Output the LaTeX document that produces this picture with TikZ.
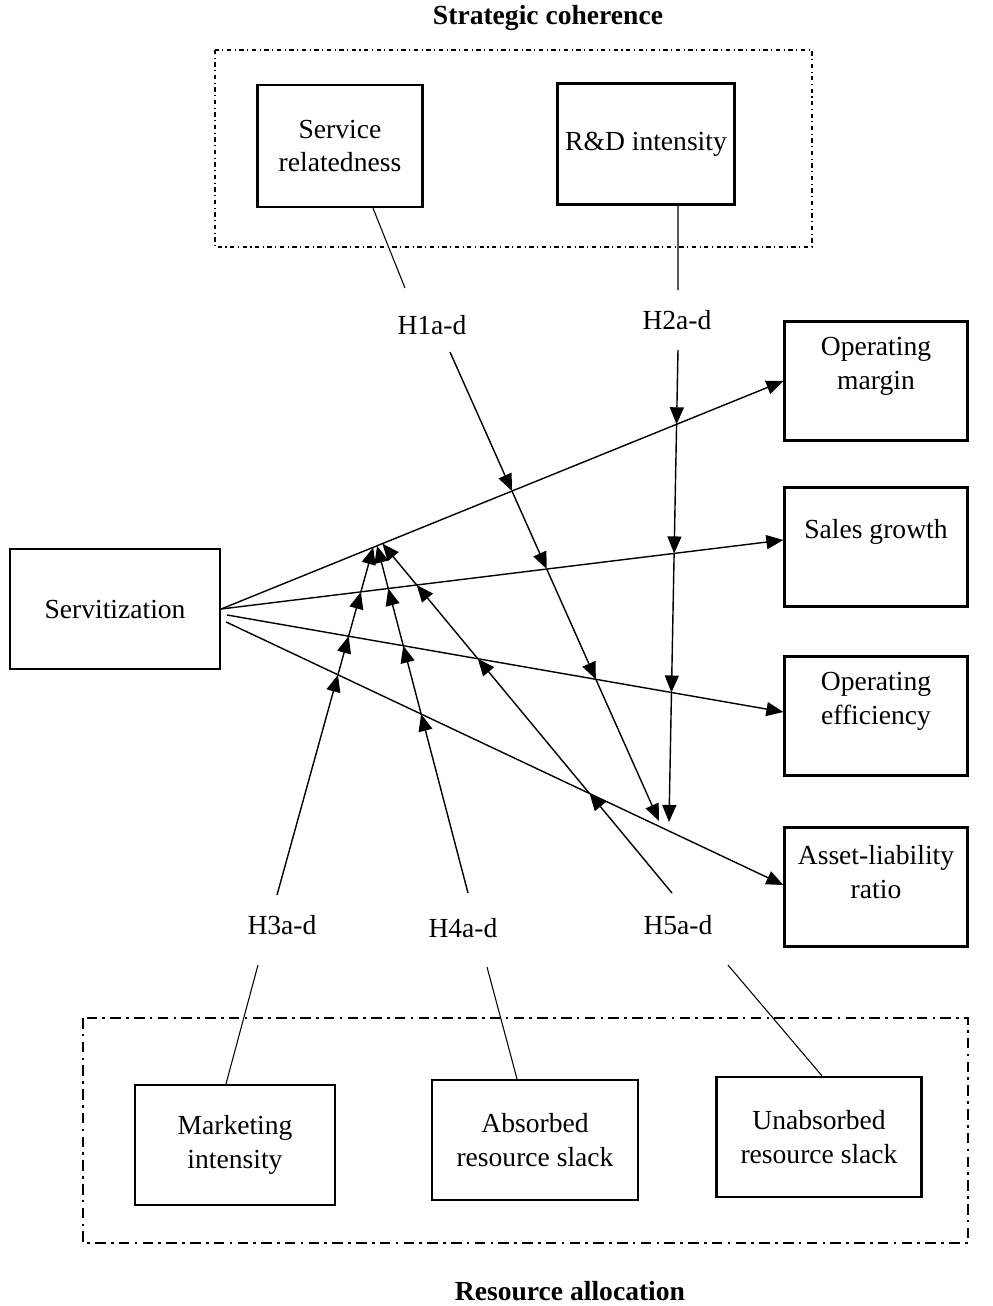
\documentclass[tikz,border=0pt]{standalone}
\usepackage{fontspec}
\setmainfont{Liberation Serif}
\usetikzlibrary{arrows.meta,intersections}

\begin{document}
\begin{tikzpicture}[x=0.02cm,y=-0.02cm,
    font=\fontsize{15.7}{19.3}\selectfont,
    box/.style={draw,line width=1.3pt,align=center,inner sep=0pt},
    outbox/.style={box,minimum width=3.66cm,minimum height=2.38cm},
    boxtext/.style={align=center,yshift=0.3cm},
    arr/.style={line width=0.8pt,-{Triangle[length=0.34cm,width=0.28cm]}},
    link/.style={line width=0.6pt},
    title/.style={font=\fontsize{15.7}{19.3}\selectfont\bfseries}]
        \useasboundingbox (0,0) rectangle (993,1306);

        \node[title] (sc) at (548,18) {Strategic coherence};
        \draw[line width=0.6pt,dash pattern=on 2.5pt off 2pt on 0.6pt off 2pt] (215,50) rectangle (812,247);
        \node[box,minimum width=3.3cm,minimum height=2.44cm] (sr) at (340,146) {Service\\relatedness};
        \node[box,minimum width=3.54cm,minimum height=2.42cm] (rd) at (646,144) {R\&D intensity};

        \node (h1) at (432,325) {H1a-d};
        \node (h2) at (677,320) {H2a-d};
        \coordinate (h1top) at (405,288);
        \coordinate (h2top) at (678,290);
        \draw[link] ([xshift=0.66cm]sr.south) -- (h1top);
        \draw[link] ([xshift=0.64cm]rd.south) -- (h2top);

        \node[outbox,label={[boxtext]center:{Operating\\margin}}] (om) at (876,381) {};
        \node[outbox,label={[boxtext]center:{Sales growth}}] (sg) at (876,547) {};
        \node[outbox,label={[boxtext]center:{Operating\\efficiency}}] (oe) at (876,716) {};
        \node[outbox,label={[boxtext]center:{Asset-liability\\ratio}}] (al) at (876,887) {};
        \node[box,minimum width=4.2cm,minimum height=2.4cm] (serv) at (115,609) {Servitization};

        \draw[arr,name path=pom] (serv.east) -- (om.west);
        \draw[arr,name path=psg] (serv.east) -- ([yshift=0.14cm]sg.west);
        \draw[arr,name path=poe] ([shift={(0.12cm,-0.12cm)}]serv.east) -- ([yshift=0.08cm]oe.west);
        \draw[arr,name path=pal] ([shift={(0.1cm,-0.26cm)}]serv.east) -- ([yshift=0.04cm]al.west);

        \node (h3) at (282,925) {H3a-d};
        \node (h4) at (463,928) {H4a-d};
        \node (h5) at (678,925) {H5a-d};

        \draw[line width=1.1pt,dash pattern=on 6pt off 3pt on 1.5pt off 3pt] (83,1018) rectangle (968,1243);
        \node[box,minimum width=4.0cm,minimum height=2.4cm] (mi) at (235,1145) {Marketing\\intensity};
        \node[box,minimum width=4.12cm,minimum height=2.4cm] (ars) at (535,1140) {Absorbed\\resource slack};
        \node[box,minimum width=4.1cm,minimum height=2.4cm] (urs) at (819,1137) {Unabsorbed\\resource slack};
        \node[title] (ra) at (570,1291) {Resource allocation};

        \coordinate (h3bot) at (258,965);
        \coordinate (h4bot) at (487,967);
        \coordinate (h5bot) at (728,965);
        \draw[link] ([xshift=-0.18cm]mi.north) -- (h3bot);
        \draw[link] ([xshift=-0.36cm]ars.north) -- (h4bot);
        \draw[link] ([xshift=0.06cm]urs.north) -- (h5bot);

        \coordinate (h1s) at (450,352);
        \coordinate (h1e) at (659,821);
        \coordinate (h2s) at (678,350);
        \coordinate (h2e) at (669,822);
        \coordinate (h3s) at (277,895);
        \coordinate (h4s) at (468,893);
        \coordinate (h5s) at (672,893);

        \path[name path=ph1] (h1s) -- (h1e);
        \path[name path=ph2] (h2s) -- (h2e);
        \path[name path=ph3] (h3s) -- (383,512);
        \path[name path=ph4] (h4s) -- (368,511);
        \path[name path=ph5] (h5s) -- (357,513);

        \path[name intersections={of=ph1 and pom,by=h1a}];
        \path[name intersections={of=ph1 and psg,by=h1b}];
        \path[name intersections={of=ph1 and poe,by=h1c}];
        \path[name intersections={of=ph2 and pom,by=h2a}];
        \path[name intersections={of=ph2 and psg,by=h2b}];
        \path[name intersections={of=ph2 and poe,by=h2c}];
        \path[name intersections={of=ph3 and pal,by=h3a}];
        \path[name intersections={of=ph3 and poe,by=h3b}];
        \path[name intersections={of=ph3 and psg,by=h3c}];
        \path[name intersections={of=ph3 and pom,by=h3e}];
        \path[name intersections={of=ph4 and pal,by=h4a}];
        \path[name intersections={of=ph4 and poe,by=h4b}];
        \path[name intersections={of=ph4 and psg,by=h4c}];
        \path[name intersections={of=ph4 and pom,by=h4e}];
        \path[name intersections={of=ph5 and pal,by=h5a}];
        \path[name intersections={of=ph5 and poe,by=h5b}];
        \path[name intersections={of=ph5 and psg,by=h5c}];
        \path[name intersections={of=ph5 and pom,by=h5e}];

        \foreach \i in {1,...,5} {
            \draw[arr] (h\i s) -- (h\i a);
            \draw[arr] (h\i a) -- (h\i b);
            \draw[arr] (h\i b) -- (h\i c);
            \draw[arr] (h\i c) -- (h\i e);
        }
\end{tikzpicture}
\end{document}
